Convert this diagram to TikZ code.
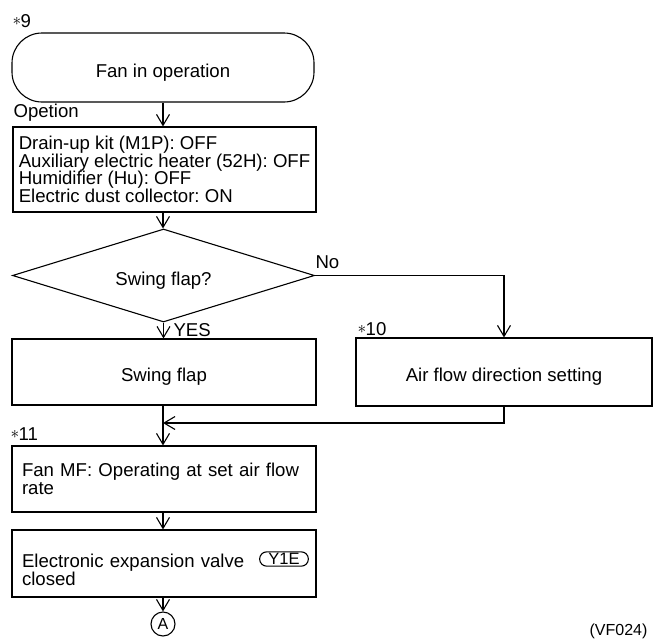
\documentclass[tikz,border=0pt]{standalone}
\usepackage{fontspec}
\setmainfont{Liberation Sans}
\usetikzlibrary{arrows.meta,shapes.geometric,shapes.misc}
% small centred asterisk used in front of the step numbers
\newcommand{\astmark}{\raisebox{1.6pt}{\fontsize{17}{17}\selectfont$\ast$}\kern-0.5pt}

\begin{document}
\frenchspacing
\begin{tikzpicture}[x=1pt,y=-1pt,
  line width=1.1pt,
  txt/.style={font=\fontsize{18.6}{17.6}\selectfont},
  small/.style={font=\fontsize{16}{16}\selectfont},
  onebox/.style={draw, rectangle, inner sep=0pt, txt, text height=19pt, text depth=0pt},
  multibox/.style={draw, rectangle, inner ysep=0pt, align=left, txt},
  decision/.style={draw, diamond, aspect=3.2, inner sep=0pt, txt, text height=19pt, text depth=0pt},
  tag/.style={anchor=base west, inner sep=0pt, txt},
  flow/.style={-{Straight Barb[length=11pt,width=13pt]}}]
\useasboundingbox (0,0) rectangle (653,640);

% main column
\node[onebox, rounded corners=30pt, minimum width=302pt, minimum height=69pt]
  (start) at (163,67.5) {Fan in operation};
\node[tag] (n9) at (12,27) {\astmark9};
\node[tag] (optlabel) at (13,117) {Opetion};

% the widest line sets the block, which is then centred in the box
\node[multibox, inner xsep=0pt, minimum width=303pt, minimum height=85pt]
  (options) at (164.5,169.5)
  {Drain-up kit (M1P): OFF\\
   Auxiliary electric heater (52H): OFF\\
   Humidifier (Hu): OFF\\
   Electric dust collector: ON};

\node[decision, minimum width=302pt, minimum height=93pt]
  (dec) at (163.5,275.5) {Swing flap?};
\node[tag] (no) at (315,268) {No};
\node[tag] (yes) at (173,336) {YES};

\node[onebox, minimum width=304pt, minimum height=66pt]
  (swing) at (164,372) {Swing flap};
\node[onebox, minimum width=296pt, minimum height=68pt]
  (air) at (504,372) {Air flow direction setting};
\node[tag] (n10) at (357,335) {\astmark10};

\coordinate (merge) at (163,423);
\node[tag] (n11) at (10,440) {\astmark11};

\node[multibox, text width=284pt, inner xsep=10pt, minimum height=66pt]
  (fanmf) at (164,479)
  {Fan MF: Operating at set air flow\\rate};

\node[multibox, text width=284pt, inner xsep=10pt, minimum height=67pt,
      text depth=6pt, font=\fontsize{18.6}{16}\selectfont]
  (eev) at (164,563.5)
  {Electronic expansion valve\\closed};
\node[draw, rounded rectangle, inner xsep=6pt, inner ysep=1.5pt,
      font=\fontsize{16.5}{16.5}\selectfont]
  (y1e) at (284,559) {Y1E};

\node[draw, circle, minimum size=24pt, inner sep=0pt, small]
  (conA) at (163,624) {A};
\node[anchor=base east, inner sep=0pt, small] (code) at (648,635) {(VF024)};

% connectors
\draw[flow] (start.south) -- (start.south |- options.north);
\draw[flow] (start.south |- options.south) -- (start.south |- dec.north);
\draw[flow] (dec.south) -- (dec.south |- swing.north);
\draw[flow] (dec.east) -| (air.north);
\draw[flow] (merge |- swing.south) -- (merge |- fanmf.north);
\draw[flow] (air.south) |- (merge);
\draw[flow] (merge |- fanmf.south) -- (merge |- eev.north);
\draw[flow] (merge |- eev.south) -- (conA.north);
\end{tikzpicture}
\end{document}
